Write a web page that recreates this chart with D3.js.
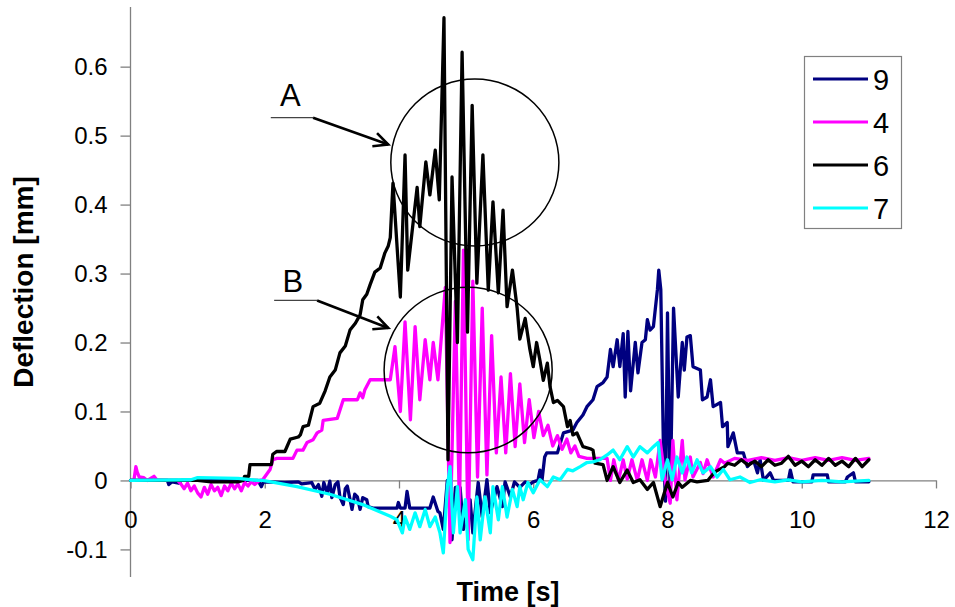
<!DOCTYPE html>
<html>
<head>
<meta charset="utf-8">
<script src="https://cdn.jsdelivr.net/npm/d3@7"></script>
<style>
html,body{margin:0;padding:0;background:#fff;}
svg{display:block;font-family:Arial,"Liberation Sans",sans-serif;}
</style>
</head>
<body>
<svg id="chart" width="955" height="607"></svg>
<script>
// ---- data (time [s], deflection [mm]) ----
const xTicks = [0, 2, 4, 6, 8, 10, 12];
const yTicks = [-0.1, 0, 0.1, 0.2, 0.3, 0.4, 0.5, 0.6];
const yTickLabels = ["-0.1", "0", "0.1", "0.2", "0.3", "0.4", "0.5", "0.6"];
const seriesNames = ["9", "4", "6", "7"];
const seriesColors = ["#000080", "#ff00ff", "#000000", "#00ffff"];

const s9 = [[0,0],[0.55,0],[0.57,-0.006],[0.62,-0.002],[0.72,-0.004],[0.76,0],[1.9,0],[1.95,-0.009],[1.98,-0.002],[2.3,-0.003],[2.5,-0.002],[2.55,-0.005],[2.7,-0.003],[2.75,-0.013],[2.8,-0.006],[2.85,-0.023],[2.88,-0.003],[2.93,-0.018],[2.97,-0.001],[3.0,-0.025],[3.05,-0.006],[3.09,-0.002],[3.12,-0.024],[3.17,-0.035],[3.2,-0.012],[3.23,-0.008],[3.3,-0.042],[3.34,-0.02],[3.38,-0.024],[3.42,-0.042],[3.46,-0.025],[3.52,-0.028],[3.54,-0.038],[3.61,-0.04],[3.97,-0.04],[3.99,-0.032],[4.02,-0.04],[4.09,-0.04],[4.12,-0.016],[4.16,-0.04],[4.46,-0.04],[4.51,-0.024],[4.58,-0.045],[4.61,-0.047],[4.66,-0.071],[4.72,0.0],[4.79,-0.086],[4.84,-0.01],[4.91,-0.01],[4.96,-0.071],[5.06,-0.028],[5.10,-0.076],[5.18,-0.003],[5.24,-0.053],[5.31,0.001],[5.36,-0.047],[5.46,-0.009],[5.54,-0.038],[5.58,-0.002],[5.66,-0.024],[5.72,-0.002],[5.80,-0.01],[5.88,-0.002],[5.95,-0.006],[6.0,-0.002],[6.07,0.0],[6.10,0.015],[6.13,0.0],[6.17,0.034],[6.2,0.04],[6.36,0.04],[6.45,0.069],[6.59,0.073],[6.65,0.084],[6.74,0.095],[6.80,0.107],[6.89,0.117],[6.95,0.136],[7.04,0.142],[7.10,0.15],[7.15,0.19],[7.19,0.165],[7.25,0.204],[7.29,0.165],[7.34,0.213],[7.37,0.121],[7.41,0.216],[7.45,0.13],[7.52,0.2],[7.56,0.156],[7.62,0.2],[7.67,0.204],[7.70,0.233],[7.74,0.218],[7.79,0.223],[7.85,0.277],[7.87,0.305],[7.90,0.277],[7.94,0.044],[7.97,-0.03],[8.0,0.243],[8.04,-0.028],[8.09,0.25],[8.16,0.121],[8.22,0.2],[8.25,0.16],[8.29,0.208],[8.34,0.21],[8.38,0.165],[8.49,0.16],[8.52,0.117],[8.59,0.121],[8.64,0.146],[8.68,0.107],[8.79,0.113],[8.82,0.078],[8.89,0.084],[8.90,0.049],[8.98,0.069],[9.04,0.04],[9.13,0.04],[9.19,0.02],[9.28,0.03],[9.34,0.011],[9.38,0.03],[9.43,0.0],[9.53,0.011],[9.58,0.0],[9.8,0.0],[9.83,0.015],[9.87,-0.002],[10.15,-0.002],[10.17,0.008],[10.38,0.008],[10.40,-0.002],[10.65,-0.002],[10.68,0.005],[10.77,0.011],[10.80,-0.002],[11.0,-0.002]];

const s4 = [[0,0],[0.05,0],[0.08,0.02],[0.1,0.012],[0.13,0.005],[0.2,0.004],[0.25,0],[0.35,0.006],[0.4,0],[0.7,0],[0.75,-0.005],[0.8,-0.012],[0.85,-0.004],[0.9,-0.015],[0.95,-0.008],[1.0,-0.018],[1.05,-0.024],[1.1,-0.01],[1.15,-0.02],[1.2,-0.006],[1.25,-0.015],[1.3,-0.01],[1.35,-0.022],[1.4,-0.008],[1.45,-0.015],[1.5,-0.004],[1.55,-0.012],[1.6,-0.005],[1.65,-0.015],[1.7,-0.003],[1.75,-0.008],[1.8,-0.002],[1.85,-0.006],[1.92,0],[1.97,0.001],[2.05,0.012],[2.08,0.016],[2.12,0.03],[2.18,0.032],[2.42,0.032],[2.48,0.044],[2.57,0.044],[2.63,0.055],[2.72,0.059],[2.78,0.069],[2.85,0.073],[2.87,0.087],[3.08,0.09],[3.17,0.117],[3.38,0.117],[3.42,0.127],[3.46,0.12],[3.49,0.131],[3.57,0.146],[3.87,0.146],[3.94,0.194],[4.02,0.1],[4.09,0.23],[4.17,0.088],[4.24,0.223],[4.31,0.117],[4.39,0.204],[4.46,0.146],[4.51,0.2],[4.58,0.146],[4.69,0.28],[4.76,-0.09],[4.84,0.26],[4.90,-0.042],[4.96,0.334],[5.03,-0.086],[5.10,0.289],[5.17,0.005],[5.24,0.25],[5.31,0.008],[5.38,0.21],[5.45,0.04],[5.52,0.15],[5.59,0.04],[5.66,0.155],[5.73,0.049],[5.80,0.14],[5.87,0.055],[5.94,0.117],[6.01,0.062],[6.08,0.10],[6.15,0.065],[6.22,0.08],[6.29,0.05],[6.36,0.065],[6.43,0.045],[6.50,0.06],[6.56,0.04],[6.62,0.05],[6.68,0.035],[6.8,0.032],[7.1,0.032],[7.15,0.0],[7.2,0.03],[7.27,0.0],[7.34,0.03],[7.4,0.002],[7.47,0.03],[7.55,0.0],[7.62,0.03],[7.7,0.0],[7.75,0.03],[7.82,0.005],[7.89,0.058],[7.97,-0.003],[8.04,-0.033],[8.08,0.058],[8.14,-0.028],[8.22,0.058],[8.26,0.001],[8.34,0.034],[8.38,0.005],[8.49,0.026],[8.53,0.01],[8.59,0.03],[8.68,0.005],[8.79,0.03],[8.85,0.025],[9.0,0.032],[9.2,0.029],[9.4,0.033],[9.6,0.029],[9.8,0.033],[10.0,0.029],[10.2,0.033],[10.4,0.029],[10.6,0.033],[10.8,0.029],[11.0,0.032]];

const s6 = [[0,0],[1.0,0],[1.2,-0.002],[1.6,-0.002],[1.68,0.0],[1.70,0.006],[1.76,0.006],[1.78,0.023],[2.10,0.023],[2.12,0.038],[2.18,0.042],[2.30,0.042],[2.38,0.06],[2.50,0.063],[2.53,0.066],[2.57,0.078],[2.65,0.08],[2.72,0.107],[2.82,0.112],[2.90,0.13],[2.97,0.15],[3.05,0.16],[3.12,0.185],[3.20,0.195],[3.27,0.218],[3.35,0.228],[3.42,0.24],[3.46,0.262],[3.52,0.27],[3.57,0.284],[3.64,0.302],[3.72,0.308],[3.79,0.33],[3.84,0.34],[3.87,0.352],[3.91,0.431],[4.02,0.266],[4.09,0.472],[4.13,0.305],[4.27,0.425],[4.31,0.368],[4.40,0.462],[4.46,0.414],[4.54,0.479],[4.60,0.407],[4.67,0.671],[4.73,0.03],[4.79,0.44],[4.87,0.2],[4.94,0.621],[5.02,0.215],[5.09,0.544],[5.16,0.286],[5.25,0.472],[5.33,0.276],[5.40,0.404],[5.48,0.272],[5.55,0.392],[5.61,0.252],[5.69,0.305],[5.76,0.25],[5.80,0.205],[5.88,0.235],[5.95,0.19],[6.0,0.165],[6.05,0.2],[6.10,0.174],[6.15,0.145],[6.21,0.17],[6.25,0.136],[6.30,0.113],[6.36,0.116],[6.45,0.107],[6.51,0.078],[6.55,0.087],[6.59,0.066],[6.65,0.069],[6.74,0.049],[6.85,0.046],[6.89,0.044],[6.92,0.025],[7.04,0.023],[7.10,0.0],[7.19,0.02],[7.29,-0.003],[7.40,0.015],[7.49,-0.003],[7.59,0.001],[7.70,-0.013],[7.79,-0.003],[7.89,-0.038],[8.00,-0.003],[8.08,-0.024],[8.16,-0.003],[8.22,-0.01],[8.34,0.0],[8.44,-0.002],[8.6,0.0],[8.7,0.012],[8.85,0.02],[8.9,0.025],[9.0,0.022],[9.1,0.03],[9.2,0.022],[9.3,0.028],[9.4,0.02],[9.5,0.03],[9.6,0.022],[9.7,0.025],[9.8,0.035],[9.9,0.022],[10.0,0.028],[10.1,0.02],[10.2,0.03],[10.3,0.022],[10.4,0.032],[10.5,0.022],[10.6,0.028],[10.7,0.02],[10.8,0.032],[10.9,0.02],[11.0,0.03]];

const s7 = [[0,0],[0.9,0.001],[1.0,0.004],[1.6,0.003],[1.9,0.0],[1.97,0.0],[2.48,-0.009],[2.97,-0.02],[3.46,-0.035],[3.87,-0.052],[3.97,-0.057],[4.05,-0.076],[4.09,-0.053],[4.16,-0.071],[4.24,-0.047],[4.31,-0.067],[4.39,-0.042],[4.46,-0.067],[4.54,-0.053],[4.61,-0.076],[4.66,-0.105],[4.72,-0.009],[4.76,0.02],[4.81,-0.076],[4.87,-0.009],[4.91,-0.076],[4.99,-0.028],[5.03,-0.1],[5.10,-0.115],[5.16,-0.024],[5.21,-0.086],[5.28,-0.024],[5.36,-0.076],[5.40,-0.009],[5.48,-0.057],[5.54,-0.009],[5.61,-0.053],[5.69,-0.013],[5.76,-0.038],[5.80,-0.009],[5.85,-0.028],[5.92,-0.003],[6.0,-0.018],[6.10,0.001],[6.21,-0.009],[6.30,0.005],[6.40,0.001],[6.51,0.016],[6.59,0.014],[6.70,0.02],[6.80,0.026],[6.89,0.027],[6.99,0.03],[7.10,0.037],[7.19,0.044],[7.29,0.03],[7.40,0.049],[7.49,0.034],[7.59,0.049],[7.70,0.04],[7.79,0.049],[7.86,0.055],[7.92,0.001],[8.0,0.03],[8.07,0.001],[8.14,0.034],[8.22,0.011],[8.29,0.034],[8.36,0.011],[8.44,0.03],[8.53,0.011],[8.64,0.02],[8.74,0.005],[8.83,0.016],[8.93,0.001],[9.08,0.005],[9.23,-0.003],[9.38,0.001],[9.6,-0.002],[9.8,0.001],[10.0,-0.002],[10.3,0.0],[10.6,-0.002],[11.0,0.0]];

const seriesData = [s9, s4, s6, s7];

// annotations in data units
const circles = [ {t:5.13, v:0.461, rt:1.252, rv:0.121}, {t:5.03, v:0.160, rt:1.252, rv:0.120} ];
const labels = [
  {text:"A", t:2.38, v:0.543, ut0:2.09, ut1:2.72, uv:0.526, at:3.84, av:0.487},
  {text:"B", t:2.42, v:0.273, ut0:2.14, ut1:2.78, uv:0.261, at:3.84, av:0.221}
];

// ---- chart ----
const svg = d3.select("#chart");
const x = d3.scaleLinear().domain([0, 12]).range([130.5, 936]);
const y = d3.scaleLinear().domain([-0.14, 0.6865]).range([577, 7]);
const font = 'Arial,"Liberation Sans",sans-serif';

// y axis
const yAxis = svg.append("g").attr("transform", `translate(${x(0)},0)`)
  .call(d3.axisLeft(y).tickValues(yTicks).tickSize(10).tickPadding(13)
    .tickFormat((d, i) => yTickLabels[i]));
yAxis.select(".domain").attr("stroke", "#808080").attr("stroke-width", 1.3).attr("d", `M0,${y(0.6865)}V${y(-0.14)}`);
yAxis.selectAll(".tick line").attr("stroke", "#808080").attr("stroke-width", 1.3);
yAxis.selectAll(".tick text").attr("font-size", 24).attr("font-family", font).attr("fill", "#000");

// x axis at y=0
const xAxis = svg.append("g").attr("transform", `translate(0,${y(0)})`)
  .call(d3.axisBottom(x).tickValues(xTicks).tickSize(8).tickSizeOuter(0).tickPadding(0)
    .tickFormat(d3.format("d")));
xAxis.select(".domain").attr("stroke", "#808080").attr("stroke-width", 1.3);
xAxis.selectAll(".tick line").attr("stroke", "#808080").attr("stroke-width", 1.3);
xAxis.selectAll(".tick text").attr("font-size", 24).attr("font-family", font).attr("fill", "#000")
  .attr("dy", null).attr("y", 48);

// series
const line = d3.line().x(d => x(d[0])).y(d => y(d[1]));
seriesData.forEach((s, i) => {
  svg.append("path").attr("d", line(s)).attr("fill", "none")
    .attr("stroke", seriesColors[i]).attr("stroke-width", 3.3)
    .attr("stroke-linejoin", "round").attr("stroke-linecap", "round");
});

// circles
circles.forEach(c => {
  svg.append("ellipse").attr("cx", x(c.t)).attr("cy", y(c.v))
    .attr("rx", x(c.t + c.rt) - x(c.t)).attr("ry", y(c.v) - y(c.v + c.rv))
    .attr("fill", "none").attr("stroke", "#000").attr("stroke-width", 1.5);
});

// labels + arrows
labels.forEach(l => {
  svg.append("text").attr("x", x(l.t)).attr("y", y(l.v)).attr("text-anchor", "middle")
    .attr("font-size", 31).attr("font-family", font).text(l.text);
  svg.append("line").attr("x1", x(l.ut0)).attr("x2", x(l.ut1)).attr("y1", y(l.uv)).attr("y2", y(l.uv))
    .attr("stroke", "#444").attr("stroke-width", 1.2);
  const x1 = x(l.ut1), y1 = y(l.uv), x2 = x(l.at), y2 = y(l.av);
  svg.append("line").attr("x1", x1).attr("y1", y1).attr("x2", x2).attr("y2", y2)
    .attr("stroke", "#000").attr("stroke-width", 2.6);
  const ang = Math.atan2(y2 - y1, x2 - x1), L = 16, w = 0.45;
  const p = [[x2 - L*Math.cos(ang - w), y2 - L*Math.sin(ang - w)], [x2, y2], [x2 - L*Math.cos(ang + w), y2 - L*Math.sin(ang + w)]];
  svg.append("path").attr("d", d3.line()(p)).attr("fill", "none").attr("stroke", "#000")
    .attr("stroke-width", 2.6).attr("stroke-linejoin", "miter");
});

// axis titles
svg.append("text").attr("x", 508).attr("y", 601).attr("text-anchor", "middle")
  .attr("font-size", 27).attr("font-weight", "bold").attr("font-family", font).text("Time [s]");
svg.append("text").attr("transform", "translate(33,282) rotate(-90)").attr("text-anchor", "middle")
  .attr("font-size", 28).attr("font-weight", "bold").attr("font-family", font).text("Deflection [mm]");

// legend
const lg = svg.append("g");
lg.append("rect").attr("x", 804.5).attr("y", 56.5).attr("width", 97).attr("height", 172)
  .attr("fill", "#fff").attr("stroke", "#808080").attr("stroke-width", 1.2);
seriesNames.forEach((n, i) => {
  const ly = 79 + i * 43;
  lg.append("line").attr("x1", 813).attr("x2", 868).attr("y1", ly).attr("y2", ly)
    .attr("stroke", seriesColors[i]).attr("stroke-width", 3);
  lg.append("text").attr("x", 873).attr("y", ly + 10.5).attr("font-size", 29)
    .attr("font-family", font).text(n);
});
</script>
</body>
</html>
